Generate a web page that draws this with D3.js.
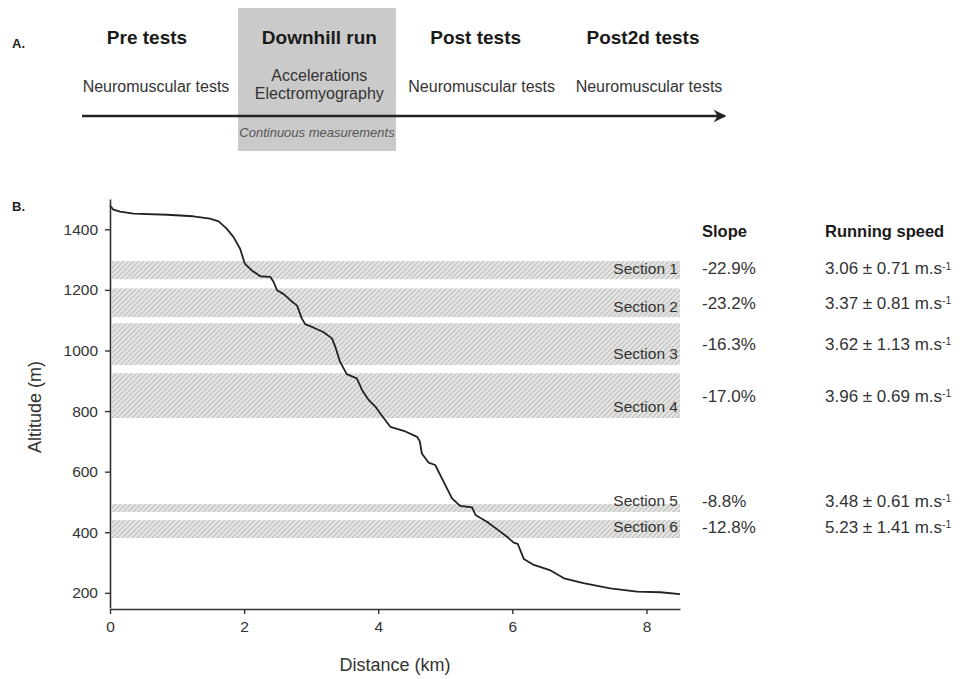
<!DOCTYPE html>
<html>
<head>
<meta charset="utf-8">
<script src="https://cdn.jsdelivr.net/npm/d3@7"></script>
<style>
  body { margin: 0; background: #fff; }
  svg { font-family: "Liberation Sans", Arial, sans-serif; }
</style>
</head>
<body>
<div id="chart"></div>
<script>
// timeline phases (panel A)
var phases = ["Pre tests", "Downhill run", "Post tests", "Post2d tests"]
var phaseDetails = [["Neuromuscular tests"], ["Accelerations", "Electromyography"], ["Neuromuscular tests"], ["Neuromuscular tests"]]

// elevation profile (panel B): distance in km, altitude in m
var distance = [0, 0.05, 0.15, 0.35, 0.85, 1.24, 1.49, 1.62, 1.74, 1.84, 1.94, 2.01, 2.11, 2.24, 2.39, 2.44, 2.49, 2.59, 2.69, 2.79,
  2.86, 2.91, 3.03, 3.18, 3.31, 3.36, 3.43, 3.53, 3.68, 3.76, 3.86, 3.96, 4.03, 4.18, 4.38, 4.58, 4.62, 4.65, 4.75, 4.85,
  4.95, 5.10, 5.22, 5.40, 5.45, 5.62, 5.82, 5.92, 6.02, 6.08, 6.17, 6.32, 6.57, 6.77, 7.06, 7.46, 7.86, 8.21, 8.5]
var altitude = [1478, 1465, 1458, 1452, 1448, 1443, 1435, 1426, 1402, 1375, 1336, 1287, 1265, 1245, 1243, 1226, 1199, 1186, 1166, 1148,
  1106, 1087, 1076, 1061, 1040, 1012, 963, 922, 908, 869, 836, 814, 792, 748, 735, 715, 700, 660, 630, 622,
  578, 512, 487, 482, 457, 435, 402, 385, 366, 362, 312, 292, 274, 248, 232, 215, 204, 202, 196]

// course sections
var sectionNames = ["Section 1", "Section 2", "Section 3", "Section 4", "Section 5", "Section 6"]
var sectionTop = [1295, 1205, 1090, 925, 493, 440]
var sectionBottom = [1235, 1110, 952, 777, 467, 381]
var slopes = ["-22.9%", "-23.2%", "-16.3%", "-17.0%", "-8.8%", "-12.8%"]
var speedMean = ["3.06", "3.37", "3.62", "3.96", "3.48", "5.23"]
var speedSD = ["0.71", "0.81", "1.13", "0.69", "0.61", "1.41"]

var xTicks = [0, 2, 4, 6, 8]
var yTicks = [200, 400, 600, 800, 1000, 1200, 1400]

var width = 960,
  height = 679

var svg = d3.select("#chart")
  .append("svg")
  .attr("width", width)
  .attr("height", height)

// hatch pattern for the sections
var defs = svg.append("defs")
var hatch = defs.append("pattern")
  .attr("id", "hatch")
  .attr("patternUnits", "userSpaceOnUse")
  .attr("width", 5)
  .attr("height", 5)
hatch.append("rect").attr("width", 5).attr("height", 5).attr("fill", "#e6e6e4")
hatch.append("path")
  .attr("d", "M-1,1 l2,-2 M0,5 l5,-5 M4,6 l2,-2")
  .attr("stroke", "#c4c4c2")
  .attr("stroke-width", 1.4)

// ---------- panel A ----------
var phaseX = d3.scalePoint()
  .domain(phases)
  .range([150, 646])

svg.append("text")
  .attr("x", 12)
  .attr("y", 48)
  .attr("font-size", 13)
  .attr("font-weight", "bold")
  .attr("fill", "#222")
  .text("A.")

svg.append("rect")
  .attr("x", 238)
  .attr("y", 8)
  .attr("width", 158)
  .attr("height", 143)
  .attr("fill", "#cacaca")

defs.append("marker")
  .attr("id", "arrow")
  .attr("viewBox", "0 0 10 10")
  .attr("refX", 9)
  .attr("refY", 5)
  .attr("markerWidth", 6)
  .attr("markerHeight", 5)
  .attr("orient", "auto")
  .append("path")
  .attr("d", "M0,0 L10,5 L0,10 L3,5 Z")
  .attr("fill", "#222")

svg.append("line")
  .attr("x1", 82)
  .attr("x2", 725)
  .attr("y1", 116)
  .attr("y2", 116)
  .attr("stroke", "#222")
  .attr("stroke-width", 2.5)
  .attr("marker-end", "url(#arrow)")

// small nudges so titles / details sit where the original has them
var titleShift = [-3, 4, -5, -3]
var detailShift = [9, 0, 6, 6]

var phaseG = svg.selectAll(".phase")
  .data(phases)
  .enter()
  .append("g")
  .attr("class", "phase")
  .attr("transform", function (d, i) { return "translate(" + (phaseX(d) + titleShift[i]) + ",0)" })

phaseG.append("text")
  .attr("y", 44)
  .attr("text-anchor", "middle")
  .attr("font-size", 19)
  .attr("font-weight", "bold")
  .attr("fill", "#1a1a1a")
  .text(function (d) { return d })

phaseG.each(function (d, i) {
  var lines = phaseDetails[i]
  var g = d3.select(this)
  lines.forEach(function (t, j) {
    g.append("text")
      .attr("x", detailShift[i])
      .attr("y", lines.length == 1 ? 92 : 81 + j * 18)
      .attr("text-anchor", "middle")
      .attr("font-size", 16)
      .attr("fill", "#333")
      .text(t)
  })
})

svg.append("text")
  .attr("x", 317)
  .attr("y", 137)
  .attr("text-anchor", "middle")
  .attr("font-size", 13)
  .attr("font-style", "italic")
  .attr("fill", "#555")
  .text("Continuous measurements")

// ---------- panel B ----------
var x = d3.scaleLinear().domain([0, 8.5]).range([110, 680])
var y = d3.scaleLinear().domain([150, 1500]).range([608, 199])

svg.append("text")
  .attr("x", 12)
  .attr("y", 211)
  .attr("font-size", 13)
  .attr("font-weight", "bold")
  .attr("fill", "#222")
  .text("B.")

svg.selectAll(".band")
  .data(sectionNames)
  .enter()
  .append("rect")
  .attr("class", "band")
  .attr("x", x(0) + 2)
  .attr("width", x(8.5) - x(0) - 2)
  .attr("y", function (d, i) { return y(sectionTop[i]) })
  .attr("height", function (d, i) { return y(sectionBottom[i]) - y(sectionTop[i]) })
  .attr("fill", "url(#hatch)")

svg.selectAll(".sectionLabel")
  .data(sectionNames)
  .enter()
  .append("text")
  .attr("class", "sectionLabel")
  .attr("x", 678)
  .attr("y", function (d, i) { return y(sectionBottom[i]) - 11 })
  .attr("dy", "0.35em")
  .attr("text-anchor", "end")
  .attr("font-size", 15.5)
  .attr("fill", "#333")
  .text(function (d) { return d })

var profile = distance.map(function (d, i) { return [d, altitude[i]] })

svg.append("path")
  .datum(profile)
  .attr("fill", "none")
  .attr("stroke", "#222")
  .attr("stroke-width", 1.8)
  .attr("stroke-linejoin", "round")
  .attr("d", d3.line()
    .x(function (d) { return x(d[0]) })
    .y(function (d) { return y(d[1]) }))

var xAxis = svg.append("g")
  .attr("transform", "translate(0," + 609 + ")")
  .call(d3.axisBottom(x).tickValues(xTicks).tickSize(5).tickSizeOuter(0).tickPadding(7))

var yAxis = svg.append("g")
  .attr("transform", "translate(" + 110 + ",0)")
  .call(d3.axisLeft(y).tickValues(yTicks).tickFormat(d3.format("d")).tickSize(5).tickSizeOuter(0).tickPadding(7))

;[xAxis, yAxis].forEach(function (a) {
  a.select(".domain").attr("stroke", "#333").attr("stroke-width", 1.6)
  a.selectAll(".tick line").attr("stroke", "#333").attr("stroke-width", 1.4)
  a.selectAll(".tick text")
    .attr("font-family", "Liberation Sans, Arial, sans-serif")
    .attr("font-size", 15.5)
    .attr("fill", "#333")
})

svg.append("text")
  .attr("x", 395)
  .attr("y", 671)
  .attr("text-anchor", "middle")
  .attr("font-size", 18)
  .attr("fill", "#333")
  .text("Distance (km)")

svg.append("text")
  .attr("transform", "translate(41,407) rotate(-90)")
  .attr("text-anchor", "middle")
  .attr("font-size", 18)
  .attr("fill", "#333")
  .text("Altitude (m)")

// slope and speed table
svg.append("text")
  .attr("x", 702)
  .attr("y", 237)
  .attr("font-size", 16.5)
  .attr("font-weight", "bold")
  .attr("fill", "#1a1a1a")
  .text("Slope")

svg.append("text")
  .attr("x", 825)
  .attr("y", 237)
  .attr("font-size", 16.5)
  .attr("font-weight", "bold")
  .attr("fill", "#1a1a1a")
  .text("Running speed")

function rowY(i) {
  var mid = (y(sectionTop[i]) + y(sectionBottom[i])) / 2
  return Math.min(mid, y(sectionBottom[i]) - 11)
}

svg.selectAll(".slope")
  .data(slopes)
  .enter()
  .append("text")
  .attr("class", "slope")
  .attr("x", 702)
  .attr("y", function (d, i) { return rowY(i) })
  .attr("dy", "0.35em")
  .attr("font-size", 17)
  .attr("fill", "#333")
  .text(function (d) { return d })

var speed = svg.selectAll(".speed")
  .data(speedMean)
  .enter()
  .append("text")
  .attr("class", "speed")
  .attr("x", 825)
  .attr("y", function (d, i) { return rowY(i) })
  .attr("dy", "0.35em")
  .attr("font-size", 17)
  .attr("fill", "#333")

speed.append("tspan")
  .text(function (d, i) { return d + " \u00b1 " + speedSD[i] + " m.s" })
speed.append("tspan")
  .attr("dy", "-0.45em")
  .attr("font-size", 10.5)
  .text("-1")
</script>
</body>
</html>
